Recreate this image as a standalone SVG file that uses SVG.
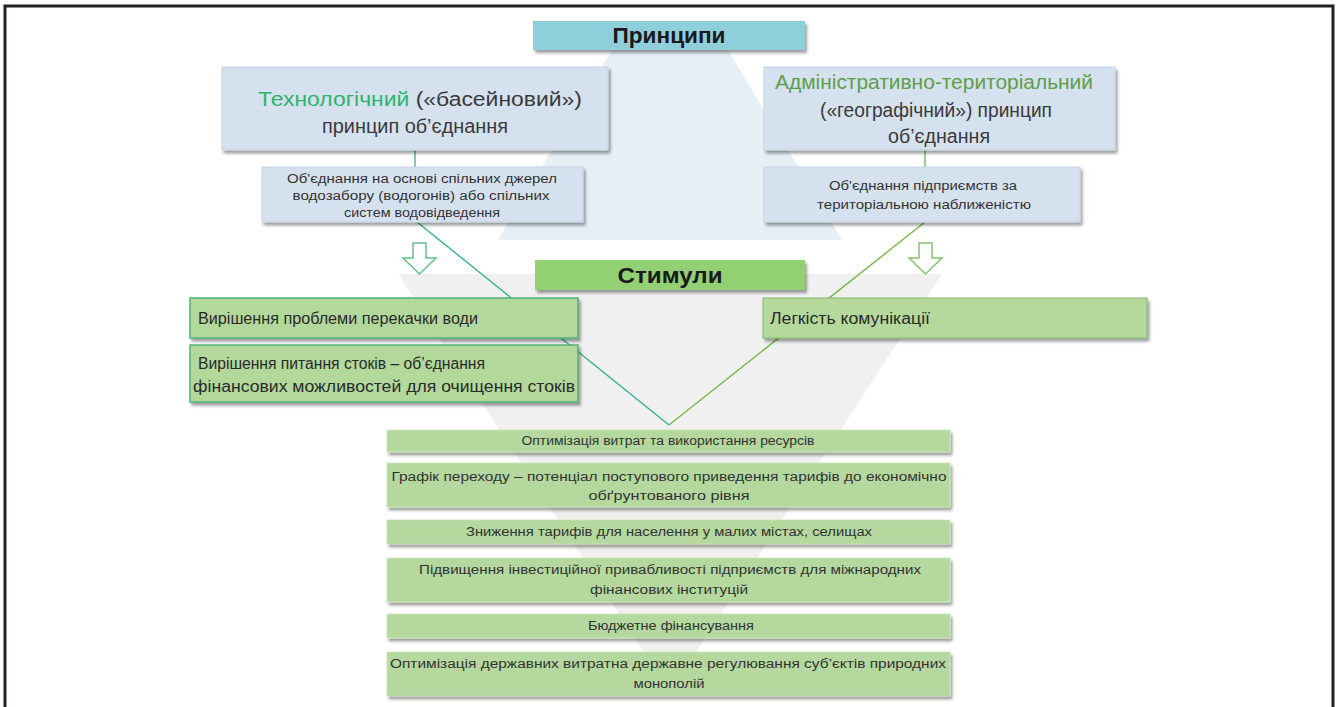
<svg xmlns="http://www.w3.org/2000/svg" width="1337" height="707" viewBox="0 0 1337 707">
<style>
text{font-family:"Liberation Sans",Arial,sans-serif;fill:#2a2a2a}
.hdr{font-weight:bold;font-size:22px;text-anchor:middle;fill:#1a1a1a}
.big{font-size:20px;text-anchor:middle;fill:#3a3a3a}
.sm{font-size:12.5px;text-anchor:middle;fill:#333}
.mid{font-size:16px;fill:#2a2a2a}
.lst{font-size:12.5px;text-anchor:middle;fill:#333}
.pbox{fill:#d5e1ee;stroke:#c4d3e3;stroke-width:1}
.gbox{fill:#b3d89b;stroke:#4fb37a;stroke-width:1.5}
.gbox2{fill:#b5d89d;stroke:#86b56c;stroke-width:1}
.lbox{fill:#b4d89d;stroke:#c9e4b8;stroke-width:0.8}
.con{fill:none;stroke-width:1.4}
</style>
<defs>
<filter id="sh" x="-10%" y="-20%" width="120%" height="150%">
<feDropShadow dx="2" dy="3" stdDeviation="1.8" flood-color="#000" flood-opacity="0.38"/>
</filter>
</defs>
<rect width="1337" height="707" fill="#fff"/>
<path d="M5,707 V6 H1333 V707" fill="none" stroke="#231f20" stroke-width="3"/>
<!-- background shapes -->
<polygon points="612,50 728,50 842,240 498,240" fill="#e6eef6"/>
<polygon points="398,274 942,274 670,692" fill="#f0f0f0"/>

<g id="connectors">
<line class="con" x1="415" y1="150" x2="415" y2="167" stroke="#4cbb78"/>
<line class="con" x1="925" y1="150" x2="925" y2="167" stroke="#7ab648"/>
<line class="con" x1="417" y1="222" x2="669" y2="425" stroke="#39b08e"/>
<line class="con" x1="925" y1="222" x2="669" y2="425" stroke="#7ab648"/>
<polygon points="413,243 426,243 426,258 436,258 419.5,274 403,258 413,258" fill="#fff" stroke="#67c08a" stroke-width="1.5"/>
<polygon points="919,243 932,243 932,258 942,258 925.5,274 909,258 919,258" fill="#fff" stroke="#86c070" stroke-width="1.5"/>
</g>

<g id="principles">
<rect x="533" y="21" width="272" height="29" fill="#8fcfdc" filter="url(#sh)"/>
<text class="hdr" x="669" y="43" textLength="113" lengthAdjust="spacingAndGlyphs">Принципи</text>
</g>

<g id="tech">
<rect class="pbox" x="222" y="67" width="386" height="83" filter="url(#sh)"/>
<text class="big" x="420" y="106" textLength="324" lengthAdjust="spacingAndGlyphs"><tspan fill="#2fb36c">Технологічний</tspan> («басейновий»)</text>
<text class="big" x="415" y="133" textLength="186" lengthAdjust="spacingAndGlyphs">принцип об’єднання</text>
</g>

<g id="tech-sub">
<rect class="pbox" x="262" y="167" width="321" height="55" filter="url(#sh)"/>
<text class="sm" x="422" y="183" textLength="270" lengthAdjust="spacingAndGlyphs">Об'єднання на основі спільних джерел</text>
<text class="sm" x="421" y="200" textLength="257" lengthAdjust="spacingAndGlyphs">водозабору (водогонів) або спільних</text>
<text class="sm" x="422" y="217" textLength="156" lengthAdjust="spacingAndGlyphs">систем водовідведення</text>
</g>

<g id="admin">
<rect class="pbox" x="764" y="67" width="351" height="83" filter="url(#sh)"/>
<text class="big" x="934" y="89" style="fill:#5e9e4c" textLength="318" lengthAdjust="spacingAndGlyphs">Адміністративно-територіальний</text>
<text class="big" x="936" y="117" textLength="232" lengthAdjust="spacingAndGlyphs">(«географічний») принцип</text>
<text class="big" x="939" y="143" textLength="102" lengthAdjust="spacingAndGlyphs">об’єднання</text>
</g>

<g id="admin-sub">
<rect class="pbox" x="764" y="167" width="316" height="55" filter="url(#sh)"/>
<text class="sm" x="923" y="190" textLength="188" lengthAdjust="spacingAndGlyphs">Об'єднання підприємств за</text>
<text class="sm" x="924" y="209" textLength="214" lengthAdjust="spacingAndGlyphs">територіальною наближеністю</text>
</g>

<g id="stimuli">
<rect x="535" y="260" width="270" height="30" fill="#93cf73" filter="url(#sh)"/>
<text class="hdr" x="670" y="283" textLength="105" lengthAdjust="spacingAndGlyphs">Стимули</text>
</g>

<g id="s1">
<rect class="gbox" x="190" y="298" width="388" height="40" filter="url(#sh)"/>
<text class="mid" x="198" y="324" textLength="280" lengthAdjust="spacingAndGlyphs">Вирішення проблеми перекачки води</text>
</g>
<g id="s2">
<rect class="gbox" x="190" y="345" width="388" height="57" filter="url(#sh)"/>
<text class="mid" x="198" y="369" textLength="287" lengthAdjust="spacingAndGlyphs">Вирішення питання стоків – об’єднання</text>
<text class="mid" x="193" y="392" textLength="382" lengthAdjust="spacingAndGlyphs">фінансових можливостей для очищення стоків</text>
</g>
<g id="s3">
<rect class="gbox2" x="763" y="298" width="384" height="40" filter="url(#sh)"/>
<text class="mid" x="770" y="324" textLength="160" lengthAdjust="spacingAndGlyphs">Легкість комунікації</text>
</g>

<g id="l1">
<rect class="lbox" x="387" y="430" width="563" height="22" filter="url(#sh)"/>
<text class="lst" x="668" y="445" textLength="293" lengthAdjust="spacingAndGlyphs">Оптимізація витрат та використання ресурсів</text>
</g>
<g id="l2">
<rect class="lbox" x="387" y="463" width="563" height="44" filter="url(#sh)"/>
<text class="lst" x="669" y="481" textLength="555" lengthAdjust="spacingAndGlyphs">Графік переходу – потенціал поступового приведення тарифів до економічно</text>
<text class="lst" x="669" y="500" textLength="161" lengthAdjust="spacingAndGlyphs">обґрунтованого рівня</text>
</g>
<g id="l3">
<rect class="lbox" x="387" y="520" width="563" height="24" filter="url(#sh)"/>
<text class="lst" x="669" y="536" textLength="406" lengthAdjust="spacingAndGlyphs">Зниження тарифів для населення у малих містах, селищах</text>
</g>
<g id="l4">
<rect class="lbox" x="387" y="558" width="563" height="44" filter="url(#sh)"/>
<text class="lst" x="670" y="574" textLength="502" lengthAdjust="spacingAndGlyphs">Підвищення інвестиційної привабливості підприємств для міжнародних</text>
<text class="lst" x="669" y="594" textLength="158" lengthAdjust="spacingAndGlyphs">фінансових інституцій</text>
</g>
<g id="l5">
<rect class="lbox" x="387" y="614" width="563" height="24" filter="url(#sh)"/>
<text class="lst" x="671" y="630" textLength="166" lengthAdjust="spacingAndGlyphs">Бюджетне фінансування</text>
</g>
<g id="l6">
<rect class="lbox" x="387" y="652" width="563" height="44" filter="url(#sh)"/>
<text class="lst" x="668" y="668" textLength="556" lengthAdjust="spacingAndGlyphs">Оптимізація державних витратна державне регулювання суб’єктів природних</text>
<text class="lst" x="669" y="688" textLength="71" lengthAdjust="spacingAndGlyphs">монополій</text>
</g>
</svg>
